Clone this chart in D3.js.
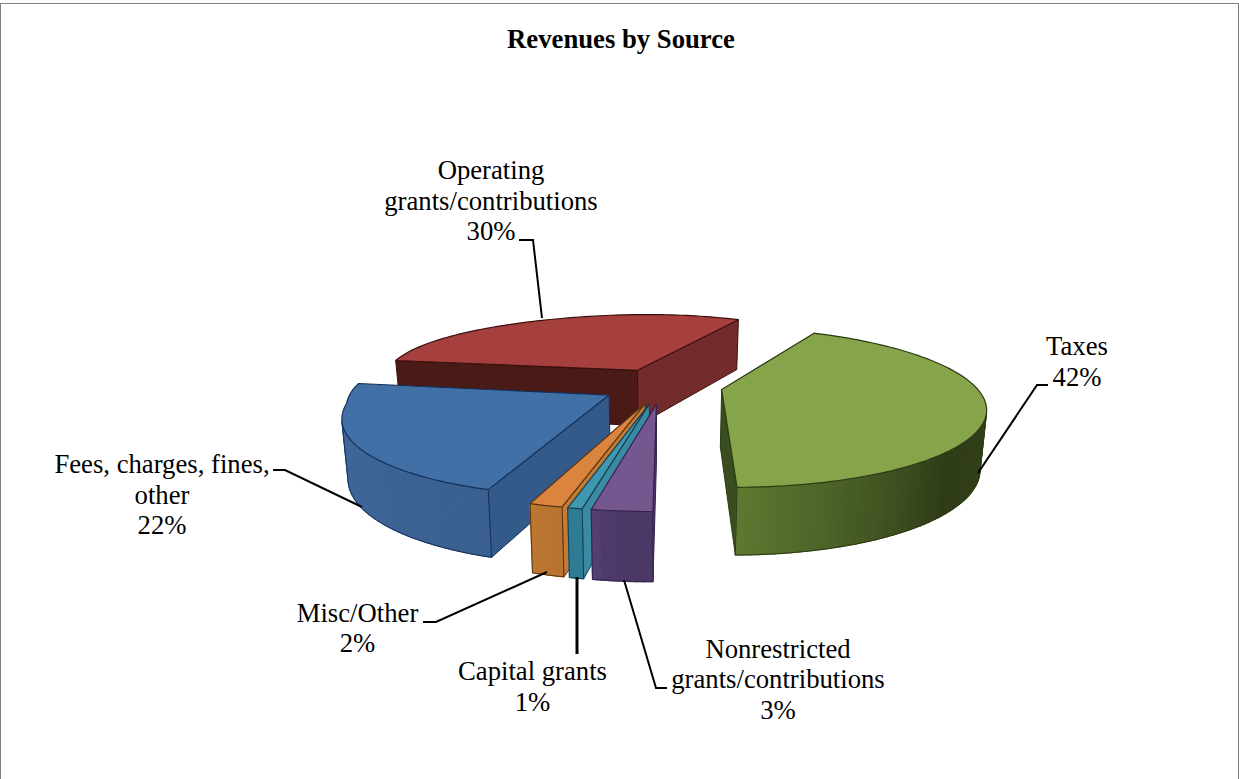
<!DOCTYPE html>
<html>
<head>
<meta charset="utf-8">
<style>
  html, body { margin: 0; padding: 0; background: #fff; }
  svg { display: block; }
  text { font-family: "Liberation Serif", serif; fill: #000; }
</style>
<script src="https://cdn.jsdelivr.net/npm/d3@7"></script>
</head>
<body>
<div id="chart"></div>
<script>
// chart values, clockwise from Taxes (percent)
const sources = ["Taxes", "Nonrestricted", "Capital grants", "Misc/Other", "Fees", "Operating"]
const shares = [42.13, 2.88, 0.7, 1.61, 22.49, 30.19]
const labelLines = [
    ["Taxes"],
    ["Nonrestricted", "grants/contributions"],
    ["Capital grants"],
    ["Misc/Other"],
    ["Fees, charges, fines,", "other"],
    ["Operating", "grants/contributions"]
]
const topColors = ["#86a44a", "#74578f", "#3f97b0", "#db843d", "#4170a6", "#a5403f"]
const startWallColors = ["#3a4d1f", "#4d3a6a", "#3b8aa3", "#c47a33", "#345a89", "#4a1a16"]
const endWallColors = ["#3a4d1f", "#4d3a6a", "#2f7d94", "#b87430", "#345a89", "#722c2b"]
const bandColors = [
    ["#3f5020", "#2f3c18", "#5f7a32"],
    ["#4a3866", "#4d3a6a", "#5a4478"],
    ["#2f7d94", "#2f7d94", "#2f7d94"],
    ["#b87430", "#bb7631", "#b87430"],
    ["#3a6090", "#41689a", "#3f6ea8"],
    ["#4a1a16", "#4a1a16", "#4a1a16"]
]
const edgeColors = ["#2c3a14", "#33234d", "#143f4f", "#5a3210", "#14305a", "#3a0f0c"]
const drawOrder = [5, 4, 0, 3, 2, 1]

const width = 1239, height = 779

// camera fit for the tilted pie
const view = {cx: 655, cy: 385.5, ax: 251, ay: 74, k: 0.22, roll: -2, stretch: 0.1, u0: 0.03, explode: 0.24, startDeg: 29}

function project(u, v) {
    const p = 1 / (1 + view.k * v)
    // the far left of the picture reaches a bit further than a plain camera gives
    const ux = u < 0 ? u - view.stretch * u * u * Math.max(0, v + 0.2) : u
    return {x: view.cx + view.ax * ux * p, y: view.cy + (view.roll * u - view.ay * v) * p, p: p}
}
function lower(pt) {
    return [view.cx + (pt.x - view.cx) * 0.98, pt.y + 21 + 35.8 * pt.p]
}
function upper(pt) {
    return [pt.x, pt.y]
}

const svg = d3.select("#chart").append("svg")
    .attr("width", width)
    .attr("height", height)

svg.append("rect")
    .attr("x", 0.5).attr("y", 3.5)
    .attr("width", width - 1).attr("height", height)
    .attr("fill", "#fff").attr("stroke", "#808080")

svg.append("text")
    .attr("x", 621).attr("y", 48)
    .attr("text-anchor", "middle")
    .attr("font-weight", "bold")
    .attr("font-size", 26.7)
    .text("Revenues by Source")

const start = view.startDeg * Math.PI / 180
const pie = d3.pie().sort(null).startAngle(start).endAngle(start + 2 * Math.PI)
const arcs = pie(shares)
const line = d3.line()

function ring(points) {
    return line(points) + "Z"
}

const plot = svg.append("g")

drawOrder.forEach(i => {
    const a = arcs[i]
    const mid = (a.startAngle + a.endAngle) / 2
    const ou = view.u0 + view.explode * Math.sin(mid)
    const ov = view.explode * Math.cos(mid)
    const at = (r, t) => project(ou + r * Math.sin(t), ov + r * Math.cos(t))

    const apex = at(0, 0)
    const steps = Math.max(4, Math.round((a.endAngle - a.startAngle) * 40))
    const angles = d3.range(steps + 1).map(s => a.startAngle + (a.endAngle - a.startAngle) * s / steps)
    const rim = angles.map(t => at(1, t))
    const g = plot.append("g")

    // radial walls, only where they face the viewer
    const wall = (from, to, fill) => {
        const q = [upper(from), upper(to), lower(to), lower(from)]
        if (d3.polygonArea(q) > 0) {
            g.append("path").attr("d", ring(q))
                .attr("fill", fill)
                .attr("stroke", edgeColors[i]).attr("stroke-width", 1)
                .attr("stroke-linejoin", "round")
        }
    }
    wall(apex, rim[0], startWallColors[i])
    wall(rim[steps], apex, endWallColors[i])

    // outer band in slices so the shading can run along it
    const shade = d3.scaleLinear().domain([0, 0.7, 1]).range(bandColors[i])
    const visible = []
    rim.slice(0, -1).forEach((pt, s) => {
        const q = [upper(pt), upper(rim[s + 1]), lower(rim[s + 1]), lower(pt)]
        if (d3.polygonArea(q) > 0) {
            const c = shade(s / steps)
            g.append("path").attr("d", ring(q)).attr("fill", c).attr("stroke", c).attr("stroke-width", 1.2)
            visible.push(s)
        }
    })
    // outline of the band, bottom rim and the two ends
    if (visible.length) {
        const bottom = visible.map(s => lower(rim[s])).concat([lower(rim[visible[visible.length - 1] + 1])])
        g.append("path").attr("d", line(bottom))
            .attr("fill", "none").attr("stroke", edgeColors[i]).attr("stroke-width", 1)
        const ends = [visible[0], visible[visible.length - 1] + 1]
        ends.forEach(s => {
            g.append("path").attr("d", line([upper(rim[s]), lower(rim[s])]))
                .attr("fill", "none").attr("stroke", edgeColors[i]).attr("stroke-width", 1)
        })
    }

    // top face
    g.append("path")
        .attr("d", ring([upper(apex)].concat(rim.map(upper))))
        .attr("fill", topColors[i])
        .attr("stroke", edgeColors[i])
        .attr("stroke-width", 1.2)
        .attr("stroke-linejoin", "round")
})

// label anchors and leaders, one per slice in the same order as the data
const labelAt = [
    [1077, 355], [778, 657.5], [532.5, 680], [357.5, 621.5], [162, 473], [491, 179]
]
const leaders = [
    [[1048, 385], [1037, 385], [978, 473]],
    [[667, 688], [656, 688], [624, 580]],
    [[577, 654], [577, 577]],
    [[423, 622], [436, 622], [547, 572]],
    [[273, 470], [285, 470], [362, 507]],
    [[519, 240], [533, 240], [542, 318]]
]
const leaderWidth = [2, 2, 3, 2, 2, 2]
const lineGap = 30.5

sources.forEach((name, i) => {
    svg.append("path")
        .attr("d", line(leaders[i]))
        .attr("fill", "none")
        .attr("stroke", "#000")
        .attr("stroke-width", leaderWidth[i])

    const t = svg.append("text")
        .attr("text-anchor", "middle")
        .attr("font-size", 26.7)
    const rows = labelLines[i].concat(Math.round(shares[i]) + "%")
    rows.forEach((row, n) => {
        t.append("tspan")
            .attr("x", labelAt[i][0])
            .attr("y", labelAt[i][1] + n * lineGap)
            .text(row)
    })
})
</script>
</body>
</html>
